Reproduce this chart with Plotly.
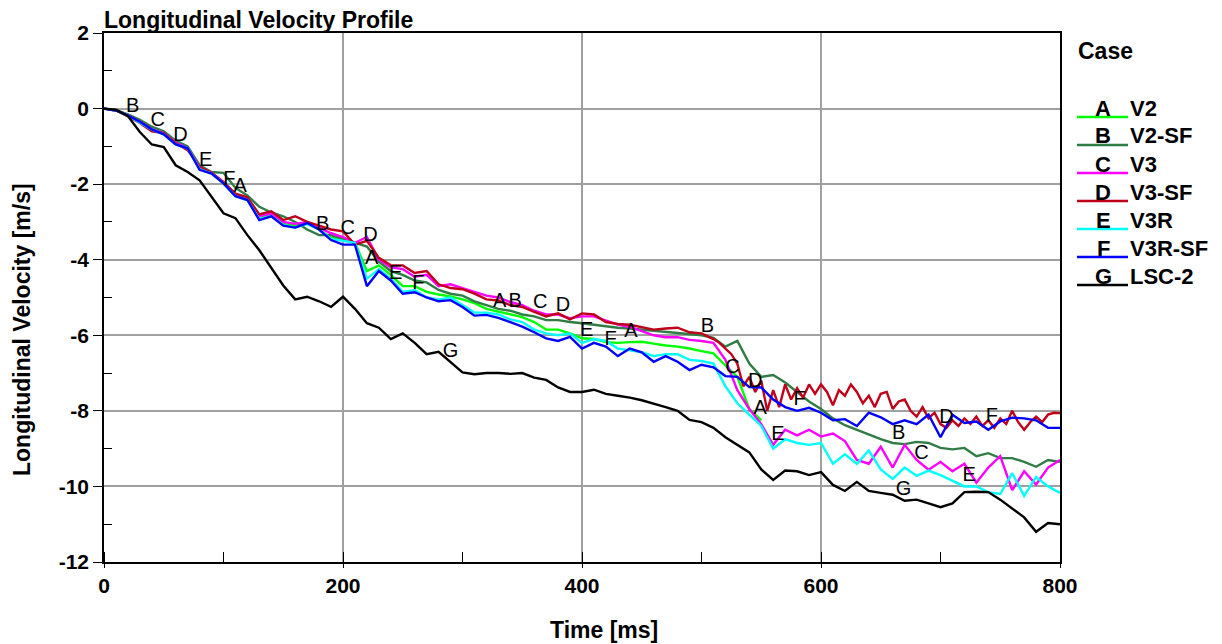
import numpy as np
import plotly.graph_objects as go

# time axis, every 10 ms
time_ms = list(range(0, 810, 10))
# V3-SF is noisy late on, read every 5 ms after 510 ms
time_v3_sf = list(range(0, 520, 10)) + list(range(515, 805, 5))

v2 = [0, -0.05, -0.18, -0.35, -0.55, -0.66, -0.92, -1.05, -1.58, -1.7,
      -1.96, -2.3, -2.4, -2.9, -2.82, -3.05, -3.1, -3.05, -3.2, -3.42,
      -3.48, -3.55, -4.3, -4.15, -4.4, -4.7, -4.7, -4.85, -4.92, -4.97,
      -5.05, -5.15, -5.3, -5.38, -5.45, -5.52, -5.65, -5.85, -5.85, -5.95,
      -6.08, -6.1, -6.18, -6.2, -6.18, -6.17, -6.22, -6.27, -6.3, -6.35,
      -6.42, -6.48, -6.8, -7.1, -7.95, -8.25] + [None] * 25
v2_sf = [0, -0.04, -0.15, -0.3, -0.48, -0.6, -0.85, -1.0, -1.5, -1.68,
         -1.7, -2.1, -2.3, -2.6, -2.75, -2.85, -3.0, -3.2, -3.35, -3.35,
         -3.45, -3.55, -3.65, -4.05, -4.3, -4.4, -4.55, -4.6, -4.8, -4.9,
         -4.95, -5.1, -5.2, -5.3, -5.35, -5.45, -5.5, -5.6, -5.6, -5.65,
         -5.68, -5.72, -5.75, -5.8, -5.82, -5.85, -5.88, -5.9, -5.94, -5.96,
         -6.0, -6.07, -6.3, -6.15, -6.75, -7.1, -7.05, -7.25, -7.5, -7.75,
         -7.95, -8.2, -8.38, -8.5, -8.64, -8.75, -8.85, -8.88, -8.82, -8.85,
         -8.98, -9.02, -8.98, -9.2, -9.12, -9.25, -9.25, -9.35, -9.48, -9.3,
         -9.35]
v3 = [0, -0.05, -0.18, -0.35, -0.55, -0.65, -0.9, -1.05, -1.55, -1.7,
      -1.95, -2.28, -2.38, -2.85, -2.78, -3.0, -3.05, -3.0, -3.15, -3.3,
      -3.4, -3.55, -3.4, -4.0, -4.2, -4.25, -4.45, -4.4, -4.7, -4.65,
      -4.75, -4.85, -4.95, -5.0, -5.12, -5.2, -5.35, -5.45, -5.45, -5.55,
      -5.5, -5.5, -5.6, -5.72, -5.78, -5.88, -6.0, -6.05, -6.05, -6.12,
      -6.15, -6.2, -6.65, -7.45, -7.95, -8.35, -8.9, -8.5, -8.65, -8.5,
      -8.68, -8.6, -8.8, -9.3, -9.4, -8.95, -9.5, -8.9, -9.3, -9.56,
      -9.35, -9.6, -9.4, -9.9, -9.5, -9.2, -10.1, -9.6, -9.95, -9.5,
      -9.3]
v3_sf = [0, -0.05, -0.2, -0.38, -0.6, -0.65, -0.92, -1.1, -1.55, -1.7,
         -1.95, -2.25, -2.35, -2.8, -2.72, -2.95, -2.85, -3.0, -3.1, -3.2,
         -3.25, -3.6, -3.5, -3.95, -4.15, -4.15, -4.35, -4.3, -4.65, -4.75,
         -4.78, -4.9, -5.05, -5.08, -5.2, -5.25, -5.38, -5.5, -5.42, -5.58,
         -5.42, -5.45, -5.65, -5.7, -5.72, -5.78, -5.85, -5.82, -5.8, -5.92,
         -5.95, -6.1,
         -6.2, -6.35, -6.5, -6.75, -7.35, -7.1, -7.5, -7.2, -8.0, -7.45,
         -7.9, -7.3, -7.7, -7.4, -7.65, -7.3, -7.55, -7.3, -7.5, -7.85,
         -7.45, -7.6, -7.3, -7.5, -7.8, -7.6, -7.9, -7.55, -7.5, -7.95,
         -7.75, -7.7, -8.0, -8.15, -7.9, -8.2, -8.05, -8.35, -8.45, -8.25,
         -8.4, -8.2, -8.35, -8.15, -8.4, -8.25, -8.45, -8.2, -8.35, -8.0,
         -8.3, -8.5, -8.3, -8.15, -8.3, -8.1, -8.05, -8.06]
v3r = [0, -0.05, -0.18, -0.36, -0.56, -0.68, -0.95, -1.05, -1.6, -1.72,
       -1.98, -2.32, -2.42, -2.92, -2.85, -3.08, -3.15, -3.05, -3.2, -3.45,
       -3.5, -3.55, -4.5, -4.25, -4.5, -4.85, -4.8, -5.0, -5.05, -5.0,
       -5.2, -5.4, -5.4, -5.45, -5.58, -5.65, -5.85, -5.95, -6.0, -5.95,
       -6.2, -6.1, -6.15, -6.35, -6.4, -6.45, -6.55, -6.5, -6.5, -6.65,
       -6.68, -6.75, -7.35, -7.8, -8.1, -8.4, -9.0, -8.75, -8.85, -8.9,
       -8.85, -9.4, -9.15, -9.4, -9.05, -9.55, -9.8, -9.5, -9.72, -9.58,
       -9.7, -9.85, -10.0, -10.0, -10.15, -10.2, -9.65, -10.25, -9.75, -10.0,
       -10.17]
v3r_sf = [0, -0.05, -0.18, -0.35, -0.55, -0.68, -0.95, -1.05, -1.62, -1.72,
          -1.98, -2.32, -2.42, -2.95, -2.85, -3.1, -3.15, -3.03, -3.2, -3.48,
          -3.6, -3.6, -4.7, -4.3, -4.55, -4.9, -4.86, -5.0, -5.1, -5.07,
          -5.25, -5.48, -5.46, -5.54, -5.65, -5.77, -5.92, -6.08, -6.15, -6.04,
          -6.35, -6.2, -6.3, -6.55, -6.35, -6.45, -6.7, -6.55, -6.7, -6.92,
          -6.78, -6.85, -7.08, -7.1, -7.37, -7.38, -7.7, -7.9, -8.0, -7.92,
          -8.05, -8.25, -8.22, -8.4, -8.05, -8.17, -8.35, -8.25, -8.35, -8.1,
          -8.7, -8.1, -8.32, -8.28, -8.5, -8.28, -8.18, -8.2, -8.25, -8.45,
          -8.45]
lsc2 = [0, -0.03, -0.2, -0.62, -0.95, -1.02, -1.5, -1.68, -1.9, -2.35,
        -2.77, -2.9, -3.35, -3.75, -4.2, -4.68, -5.05, -4.98, -5.1, -5.25,
        -4.98, -5.3, -5.68, -5.8, -6.1, -5.95, -6.2, -6.5, -6.44, -6.7,
        -6.98, -7.03, -7.0, -7.0, -7.02, -7.0, -7.12, -7.18, -7.38, -7.5,
        -7.5, -7.44, -7.55, -7.6, -7.65, -7.72, -7.8, -7.9, -8.0, -8.24,
        -8.3, -8.45, -8.7, -8.9, -9.1, -9.55, -9.83, -9.58, -9.6, -9.7,
        -9.62, -9.96, -10.12, -9.88, -10.12, -10.17, -10.22, -10.38, -10.35, -10.45,
        -10.55, -10.45, -10.15, -10.14, -10.15, -10.35, -10.58, -10.82, -11.2, -10.97,
        -11.0]

letters = ['A', 'B', 'C', 'D', 'E', 'F', 'G']
case_names = ['V2', 'V2-SF', 'V3', 'V3-SF', 'V3R', 'V3R-SF', 'LSC-2']
series = [v2, v2_sf, v3, v3_sf, v3r, v3r_sf, lsc2]
series_time = [time_ms, time_ms, time_ms, time_v3_sf, time_ms, time_ms, time_ms]
colors = ['#00ff00', '#2f7d45', '#ff00ff', '#c0001a', '#00ffff', '#0000ff', '#000000']

# where the letter tags sit along each curve (ms)
label_times = [
    [114, 224, 331, 441, 549],
    [24, 183, 344, 505, 665],
    [45, 204, 365, 526, 684],
    [64, 223, 384, 545, 705],
    [85, 244, 404, 564, 724],
    [105, 263, 424, 582, 743],
    [290, 669],
]

y_ticks = list(range(-12, 3, 2))

font_main = 'Liberation Sans, Arial, sans-serif'

fig = go.Figure()

for ts, ys, col in zip(series_time, series, colors):
    fig.add_trace(go.Scatter(x=ts, y=ys, mode='lines',
                             line=dict(color=col, width=2.4),
                             showlegend=False, hoverinfo='skip'))

# letter tags on the curves
for ts, ys, let, lt in zip(series_time, series, letters, label_times):
    t_ok = [t for t, v in zip(ts, ys) if v is not None]
    v_ok = [v for v in ys if v is not None]
    ly = np.interp(lt, t_ok, v_ok)
    fig.add_trace(go.Scatter(x=lt, y=ly, mode='text', text=[let] * len(lt),
                             textposition='top center',
                             textfont=dict(family=font_main, size=20, color='black'),
                             showlegend=False, hoverinfo='skip'))

# page is offset by the 8px body margin
W, H = 1214, 636
ml, mr, mt, mb = 96, 162, 25, 82
x0, x1 = ml, W - mr
y0, y1 = H - mb, mt


def px_x(p):
    return (p - 8 - x0) / (x1 - x0)


def px_y(p):
    return (y0 - (p - 8)) / (y0 - y1)


# axis titles (placed by hand, they sit off centre in the original)
fig.add_annotation(text='<b>Time [ms]</b>', xref='paper', yref='paper',
                   x=px_x(604), y=px_y(630), xanchor='center', yanchor='middle',
                   showarrow=False, font=dict(family=font_main, size=23, color='black'))
fig.add_annotation(text='<b>Longitudinal Velocity [m/s]</b>', xref='paper', yref='paper',
                   x=px_x(22), y=px_y(330), xanchor='center', yanchor='middle', textangle=-90,
                   showarrow=False, font=dict(family=font_main, size=23, color='black'))

# hand made legend on the right
fig.add_annotation(text='<b>Case</b>', xref='paper', yref='paper',
                   x=px_x(1076), y=px_y(51), xanchor='left', yanchor='middle',
                   showarrow=False, font=dict(family=font_main, size=23, color='black'))
for i, (let, nm, col) in enumerate(zip(letters, case_names, colors)):
    cy = 108 + i * 28
    fig.add_shape(type='line', xref='paper', yref='paper',
                  x0=px_x(1077), x1=px_x(1128), y0=px_y(cy + 9), y1=px_y(cy + 9),
                  line=dict(color=col, width=2.4))
    fig.add_annotation(text='<b>' + let + '</b>', xref='paper', yref='paper',
                       x=px_x(1103), y=px_y(cy), xanchor='center', yanchor='middle',
                       showarrow=False, font=dict(family=font_main, size=22, color='black'))
    fig.add_annotation(text='<b>' + nm + '</b>', xref='paper', yref='paper',
                       x=px_x(1128), y=px_y(cy), xanchor='left', yanchor='middle',
                       showarrow=False, font=dict(family=font_main, size=22, color='black'))

fig.update_layout(
    width=W, height=H,
    margin=dict(l=ml, r=mr, t=mt, b=mb),
    paper_bgcolor='white', plot_bgcolor='white',
    title=dict(text='<b>Longitudinal Velocity Profile</b>', x=(104 - 8) / W, xref='container',
               xanchor='left', y=1 - 12 / H, yanchor='middle',
               font=dict(family=font_main, size=23, color='black')),
    font=dict(family=font_main, color='black'),
    xaxis=dict(range=[0, 800], dtick=200, tick0=0,
               showgrid=True, gridcolor='#a0a0a0', gridwidth=1.5,
               showline=True, linecolor='black', linewidth=1.5, mirror=True,
               ticks='outside', ticklen=4, tickcolor='black',
               minor=dict(dtick=100, ticks='inside', ticklen=10, tickcolor='black', showgrid=False),
               tickfont=dict(family=font_main, size=21, color='black', weight='bold'),
               zeroline=False),
    yaxis=dict(range=[-12, 2], tickmode='array', tickvals=y_ticks,
               ticktext=[str(v) for v in y_ticks],
               showgrid=True, gridcolor='#a0a0a0', gridwidth=1.5,
               showline=True, linecolor='black', linewidth=1.5, mirror=True,
               ticks='outside', ticklen=9, tickcolor='black',
               minor=dict(tickmode='linear', tick0=1, dtick=2, ticks='inside', ticklen=8,
                          tickcolor='black', showgrid=False),
               tickfont=dict(family=font_main, size=21, color='black', weight='bold'),
               zeroline=False),
)

fig.write_html("out.html")
